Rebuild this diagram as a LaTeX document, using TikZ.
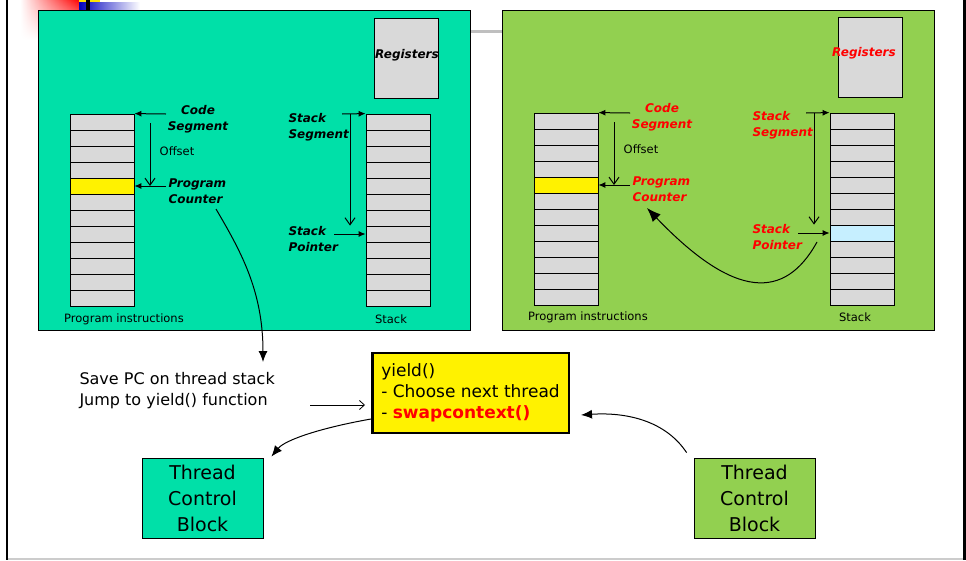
\documentclass[tikz,border=0pt]{standalone}
\usepackage{fontspec}
\setmainfont{DejaVu Sans}
\usetikzlibrary{arrows.meta,fadings}

\definecolor{tealpanel}{RGB}{0,224,168}
\definecolor{greenpanel}{RGB}{146,208,80}
\definecolor{memgray}{RGB}{217,217,217}
\definecolor{spcyan}{RGB}{198,239,255}

\begin{document}
\begin{tikzpicture}[x=1pt,y=-1pt,every path/.style={>={Latex[length=7pt,width=6pt]},line width=1pt},
  panel/.style={draw,line width=0.8pt,minimum width=432,minimum height=320,inner sep=0},
  cell/.style={draw,fill=memgray,line width=0.8pt,minimum width=64,minimum height=16,inner sep=0},
  regbox/.style={draw,fill=memgray,line width=0.8pt,minimum width=64,minimum height=80,inner sep=0},
  lbl/.style={font=\fontsize{12}{16}\selectfont\bfseries\itshape,inner sep=0},
  txt/.style={font=\fontsize{11.5}{14}\selectfont,inner sep=0},
  ofsarrow/.style={-{Straight Barb[length=7pt,width=10pt]}},
  jumparrow/.style={-{Latex[length=11pt,width=9pt]}},
  bigarrow/.style={-{Latex[length=14pt,width=11pt]}},
  tcb/.style={draw,line width=0.8pt,minimum width=121,minimum height=80,inner sep=0,align=center,font=\fontsize{19}{26}\selectfont}]
\useasboundingbox (0,0) rectangle (966,560);

% slide decoration and frame
\shade[left color=white,right color=red,path fading=south] (20,0) rectangle (80,40);
\shade[left color=blue!75!black,right color=white] (79,2) rectangle (140,10);
\fill[yellow!85!orange] (79,0) rectangle (100,2);
\fill[black] (86,0) rectangle (90,10);
\fill[black!25] (470,30) rectangle (502,33);
\draw[line width=2.5pt] (7,0) -- (7,560);
\draw[line width=3pt] (964.5,0) -- (964.5,560);
\draw[black!20,line width=1.5pt] (8,559) -- (963,559);

% the two threads
\node[panel,fill=tealpanel]  (left)  at (254,170) {};
\node[panel,fill=greenpanel] (right) at (718,170) {};
\node[regbox] (reg0) at (406,58) {};
\node[regbox] (reg1) at (870,57) {};
\node[lbl]          (reg0lbl) at (407,55) {Registers};
\node[lbl,text=red] (reg1lbl) at (864,53) {Registers};

\foreach \i in {1,...,12} {
  \node[cell] (p0-\i) at (102,106+16*\i) {};
  \node[cell] (s0-\i) at (398,106+16*\i) {};
  \node[cell] (p1-\i) at (566,105+16*\i) {};
  \node[cell] (s1-\i) at (862,105+16*\i) {};
}
\node[cell,fill=yellow] (pc0cell) at (p0-5) {};
\node[cell,fill=yellow] (pc1cell) at (p1-5) {};
\node[cell,fill=spcyan] (sp1cell) at (s1-8) {};

% thread 0
\node[lbl,align=center]           (cs0)  at (198,119) {Code\\Segment};
\node[lbl,align=left,anchor=west] (pc0)  at (168,191) {Program\\Counter};
\node[txt]                        (ofs0) at (177,151) {Offset};
\node[lbl,align=left,anchor=west] (ss0)  at (288,127) {Stack\\Segment};
\node[lbl,align=left,anchor=west] (sp0)  at (288,239) {Stack\\Pointer};
\node[txt]                        (pi0)  at (124,319) {Program instructions};
\node[txt]                        (st0)  at (391,319) {Stack};
\coordinate (cs0a)  at (166,114);
\coordinate (ofs0a) at (150,123);
\coordinate (pc0a)  at (166,186);
\coordinate (ss0a)  at (342,114);
\coordinate (ss0b)  at (350,114);
\coordinate (sp0a)  at (334,234);
\draw[->]       (cs0a)  -- (p0-1.north east);
\draw[ofsarrow] (ofs0a) -- (ofs0a |- p0-5.east);
\draw[->]       (pc0a)  -- (p0-5.east);
\draw[->]       (ss0a)  -- (s0-1.north west);
\draw[ofsarrow] (ss0b)  -- (ss0b |- s0-8.north);
\draw[->]       (sp0a)  -- (s0-8.west);

% thread 1
\node[lbl,text=red,align=center]           (cs1)  at (662,117) {Code\\Segment};
\node[lbl,text=red,align=left,anchor=west] (pc1)  at (632,189) {Program\\Counter};
\node[txt]                                 (ofs1) at (641,149) {Offset};
\node[lbl,text=red,align=left,anchor=west] (ss1)  at (752,125) {Stack\\Segment};
\node[lbl,text=red,align=left,anchor=west] (sp1)  at (752,237) {Stack\\Pointer};
\node[txt]                                 (pi1)  at (588,317) {Program instructions};
\node[txt]                                 (st1)  at (855,317) {Stack};
\coordinate (cs1a)  at (630,113);
\coordinate (ofs1a) at (614,122);
\coordinate (pc1a)  at (630,185);
\coordinate (ss1a)  at (806,113);
\coordinate (ss1b)  at (814,113);
\coordinate (sp1a)  at (798,233);
\draw[->]       (cs1a)  -- (p1-1.north east);
\draw[ofsarrow] (ofs1a) -- (ofs1a |- p1-5.east);
\draw[->]       (pc1a)  -- (p1-5.east);
\draw[->]       (ss1a)  -- (s1-1.north west);
\draw[ofsarrow] (ss1b)  -- (ss1b |- s1-8.north);
\draw[->]       (sp1a)  -- (s1-8.west);
\coordinate (sp1c) at (817,242);
\coordinate (pc1c) at (647,208);
\draw[bigarrow] (sp1c) .. controls (785,300) and (735,300) .. (pc1c);

% yield
\node[align=left,anchor=west,inner sep=0,font=\fontsize{16}{21}\selectfont] (save) at (79,391) {Save PC on thread stack\\Jump to yield() function};
\node[draw,fill=yellow,line width=2.5pt,minimum width=195,minimum height=80,inner xsep=9,align=left,font=\fontsize{17}{21}\selectfont] (yield) at (470.5,393) {yield()\\- Choose next thread\\- {\color{red}\bfseries swapcontext()}};
\node[tcb,fill=tealpanel]  (tcb0) at (202.5,498) {Thread\\Control\\Block};
\node[tcb,fill=greenpanel] (tcb1) at (754.5,498) {Thread\\Control\\Block};
\coordinate (pc0c)    at (216,209);
\coordinate (savetop) at (263,362);
\coordinate (jmp)     at (310,405);
\draw[jumparrow] (pc0c) .. controls (240,250) and (263,290) .. (savetop);
\draw[-{Straight Barb[length=5pt,width=9pt]},line width=0.8pt,shorten >=6pt] (jmp) -- (jmp -| yield.west);
\draw[jumparrow] ([yshift=-26pt]yield.west) .. controls (320,428) and (285,440) .. ([xshift=8pt,yshift=1pt]tcb0.north east);
\draw[jumparrow] ([xshift=-7pt,yshift=5pt]tcb1.north west) .. controls (665,420) and (625,412) .. ([xshift=11pt,yshift=-22pt]yield.east);
\end{tikzpicture}
\end{document}
